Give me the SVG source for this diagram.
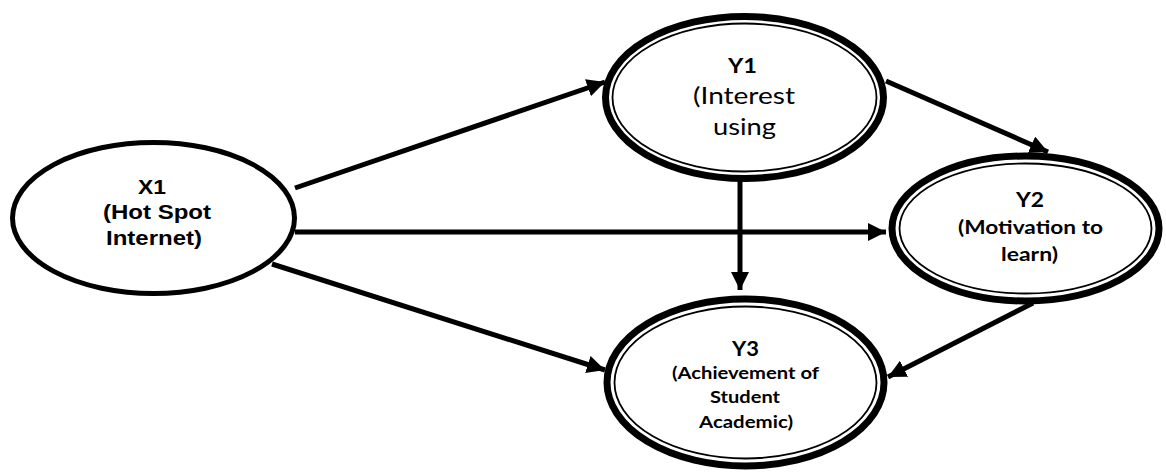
<svg xmlns="http://www.w3.org/2000/svg" width="1166" height="476" viewBox="0 0 1166 476">
<style>
.bg{fill:#fff}
.single{fill:#fff;stroke:#000;stroke-width:5}
.outer{fill:#fff;stroke:#000;stroke-width:7}
.inner{fill:none;stroke:#000;stroke-width:1.8}
.conn{stroke:#000;stroke-width:5;fill:none;marker-end:url(#arr)}
.lx{font-family:"Liberation Sans",Arial,sans-serif;font-weight:bold;font-size:19.5px;fill:#000;text-anchor:middle}
.cb{font-family:Lato,"Open Sans",sans-serif;font-weight:bold;fill:#000;text-anchor:middle}
.cr{font-family:Lato,"Open Sans",sans-serif;font-weight:normal;fill:#000;text-anchor:middle}
</style>
<defs>
<marker id="arr" markerUnits="userSpaceOnUse" markerWidth="20" markerHeight="20" refX="18" refY="9" orient="auto">
<path d="M0,0 L18,9 L0,18 Z" fill="#000"/>
</marker>
</defs>
<rect class="bg" x="0" y="0" width="1166" height="476"/>
<g id="connectors">
<line class="conn" x1="295" y1="188" x2="605" y2="82"/>
<line class="conn" x1="295" y1="232" x2="886" y2="232"/>
<line class="conn" x1="272" y1="264" x2="605" y2="370"/>
<line class="conn" x1="886" y1="81" x2="1048" y2="152"/>
<line class="conn" x1="740" y1="178" x2="740" y2="290"/>
<line class="conn" x1="1033" y1="303" x2="888" y2="377"/>
</g>
<g id="X1">
<ellipse class="single" cx="153.5" cy="218" rx="141" ry="75.5"/>
<text class="lx" x="152" y="194" textLength="28" lengthAdjust="spacingAndGlyphs">X1</text>
<text class="lx" x="157" y="219" textLength="108" lengthAdjust="spacingAndGlyphs">(Hot Spot</text>
<text class="lx" x="154" y="245" textLength="96" lengthAdjust="spacingAndGlyphs">Internet)</text>
</g>
<g id="Y1">
<ellipse class="outer" cx="744.5" cy="97.5" rx="139" ry="81"/>
<ellipse class="inner" cx="744.5" cy="97.5" rx="132" ry="74"/>
<text class="cb" x="742.5" y="73" font-size="21" textLength="29" lengthAdjust="spacingAndGlyphs">Y1</text>
<text class="cr" x="744" y="104" font-size="23" textLength="102" lengthAdjust="spacingAndGlyphs">(Interest</text>
<text class="cr" x="744.5" y="135" font-size="23" textLength="63" lengthAdjust="spacingAndGlyphs">using</text>
</g>
<g id="Y2">
<ellipse class="outer" cx="1025.5" cy="228.5" rx="133.5" ry="72.5"/>
<ellipse class="inner" cx="1025.5" cy="228.5" rx="126" ry="65"/>
<text class="cb" x="1030" y="207" font-size="21" textLength="28" lengthAdjust="spacingAndGlyphs">Y2</text>
<text class="cb" x="1030.5" y="234" font-size="19" textLength="145" lengthAdjust="spacingAndGlyphs">(Motivation to</text>
<text class="cb" x="1029.5" y="261" font-size="19" textLength="57" lengthAdjust="spacingAndGlyphs">learn)</text>
</g>
<g id="Y3">
<ellipse class="outer" cx="745.5" cy="382.5" rx="138.5" ry="83.5"/>
<ellipse class="inner" cx="745.5" cy="382.5" rx="131" ry="76"/>
<text class="cb" x="745.5" y="356" font-size="21" textLength="27" lengthAdjust="spacingAndGlyphs">Y3</text>
<text class="cb" x="745.5" y="379" font-size="17" textLength="147" lengthAdjust="spacingAndGlyphs">(Achievement of</text>
<text class="cb" x="745" y="403" font-size="17" textLength="70" lengthAdjust="spacingAndGlyphs">Student</text>
<text class="cb" x="746" y="428" font-size="17" textLength="94" lengthAdjust="spacingAndGlyphs">Academic)</text>
</g>
</svg>
